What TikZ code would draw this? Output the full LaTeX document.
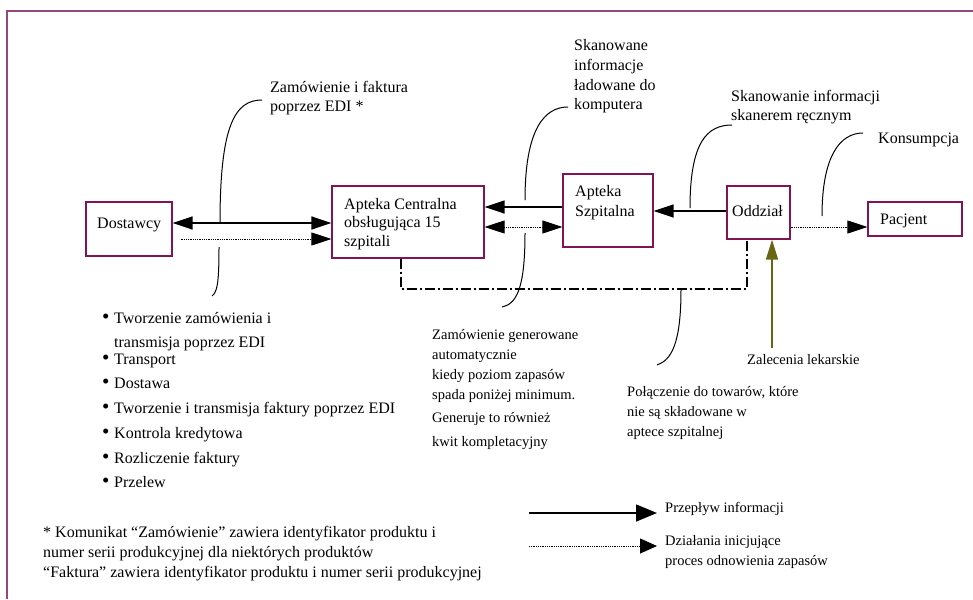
\documentclass[tikz,border=0pt]{standalone}
\usepackage{fontspec}
\setmainfont{Liberation Serif}
\usetikzlibrary{arrows.meta,calc}
\definecolor{boxc}{RGB}{128,20,84}
\definecolor{framec}{RGB}{150,70,125}
\definecolor{olivec}{RGB}{102,102,20}
\newcommand\bulmark{\makebox[12pt][l]{\raisebox{-0.5pt}{\fontsize{21}{20}\selectfont\textbullet}}}
\begin{document}
\begin{tikzpicture}[x=1pt,y=-1pt,
 boxst/.style={draw=boxc,line width=1.2pt,inner sep=0},
 txt/.style={inner sep=0,anchor=base west,align=left,font=\fontsize{16}{20}\selectfont},
 stxt/.style={txt,font=\fontsize{14.5}{20}\selectfont},
 tip/.style={-{Triangle[length=20pt,width=13pt]}},
 dtip/.style={{Triangle[length=20pt,width=13pt]}-{Triangle[length=20pt,width=13pt]}},
 solidln/.style={line width=1.5pt},
 dotln/.style={line width=0.8pt,dash pattern=on 1pt off 0.8pt},
 callout/.style={line width=1pt},
 dashdot/.style={line width=1.2pt,dash pattern=on 10pt off 3pt on 2pt off 3pt},
]
\useasboundingbox (0,0) rectangle (973,599);
\draw[framec,line width=1.2pt] (973,11) -- (7,11) -- (7,599);

% boxes (multi-line text nodes are placed by the baseline of their last line)
\node[boxst,minimum width=86pt,minimum height=54pt] (dost) at (129,229) {};
\node[txt] (dostT) at (97,228) {Dostawcy};
\node[boxst,minimum width=152pt,minimum height=72pt] (apc) at (408,222) {};
\node[txt,font=\fontsize{16}{18.5}\selectfont] (apcT) at (344,246) {Apteka Centralna\\obsługująca 15\\szpitali};
\node[boxst,minimum width=90pt,minimum height=73pt] (aps) at (608,210.5) {};
\node[txt] (apsT) at (575,216) {Apteka\\Szpitalna};
\node[boxst,minimum width=63pt,minimum height=53pt] (odd) at (758.5,212.5) {};
\node[txt] (oddT) at (732,216) {Oddział};
\node[boxst,minimum width=94pt,minimum height=34pt] (pac) at (915,219) {};
\node[txt] (pacT) at (880,224) {Pacjent};

% flows
\draw[solidln,dtip] (dost.east |- 0,223) -- (apc.west |- 0,223);
\draw[dotln,tip] ($(dost.east |- 0,239)+(8,0)$) -- (apc.west |- 0,239);
\draw[solidln,tip] (aps.west |- 0,207) -- (apc.east |- 0,207);
\draw[dotln,dtip] (apc.east |- 0,227) -- (aps.west |- 0,227);
\draw[solidln,tip] (odd.west |- 0,211) -- (aps.east |- 0,211);
\draw[dotln,tip] (odd.east |- 0,227) -- (pac.west |- 0,227);
\coordinate (zal) at (772,348);
\draw[olivec,solidln,-{Triangle[length=20pt,width=12pt]}] (zal) -- (odd.south -| zal);
\coordinate (dd1) at (401,289);
\coordinate (dd2) at (747,289);
\draw[dashdot] (apc.south -| dd1) -- (dd1) -- (dd2) -- (odd.south -| dd2);

% texts
\node[txt] (t1) at (270,112) {Zamówienie i faktura\\poprzez EDI *};
\node[txt,font=\fontsize{16}{19.7}\selectfont] (t2) at (574,110) {Skanowane\\informacje\\ładowane do\\komputera};
\node[txt,font=\fontsize{16}{19}\selectfont] (t3) at (731,121) {Skanowanie informacji\\skanerem ręcznym};
\node[txt] (t4) at (878,143) {Konsumpcja};
\node[stxt] (t5) at (432,446) {Zamówienie generowane\\automatycznie\\kiedy poziom zapasów\\spada poniżej minimum.\\[3pt]Generuje to również\\[4pt]kwit kompletacyjny};
\node[stxt] (t6) at (627,436) {Połączenie do towarów, które\\nie są składowane w\\aptece szpitalnej};
\node[stxt] (t7) at (747,364) {Zalecenia lekarskie};
\node[txt] (bul) at (102,487) {\bulmark Tworzenie zamówienia i\\[4pt]\hspace*{12pt}transmisja poprzez EDI\\[-3pt]\bulmark Transport\\[4pt]\bulmark Dostawa\\[5pt]\bulmark Tworzenie i transmisja faktury poprzez EDI\\[5pt]\bulmark Kontrola kredytowa\\[5pt]\bulmark Rozliczenie faktury\\[4pt]\bulmark Przelew};
\node[txt] (foot) at (43,577) {* Komunikat “Zamówienie” zawiera identyfikator produktu i\\numer serii produkcyjnej dla niektórych produktów\\“Faktura” zawiera identyfikator produktu i numer serii produkcyjnej};

% callouts
\coordinate (c1a) at (220,223); \coordinate (c1b) at (262,100);
\draw[callout] (c1a) .. controls (220,125) and (235,100) .. (c1b);
\coordinate (c2a) at (219,247); \coordinate (c2b) at (212,296);
\draw[callout] (c2a) .. controls (219,285) and (217,292) .. (c2b);
\coordinate (c3a) at (525,200); \coordinate (c3b) at (568,107);
\draw[callout] (c3a) .. controls (525,128) and (545,107) .. (c3b);
\coordinate (c4a) at (525,233); \coordinate (c4b) at (502,307);
\draw[callout] (c4a) .. controls (525,290) and (516,304) .. (c4b);
\coordinate (c5a) at (690,208); \coordinate (c5b) at (732,125);
\draw[callout] (c5a) .. controls (690,142) and (707,125) .. (c5b);
\coordinate (c6a) at (822,216); \coordinate (c6b) at (863,133);
\draw[callout] (c6a) .. controls (822,156) and (840,133) .. (c6b);
\coordinate (c7a) at (681,289); \coordinate (c7b) at (657,365);
\draw[callout] (c7a) .. controls (681,345) and (671,360) .. (c7b);

% legend
\coordinate (lg1a) at (529,513); \coordinate (lg1b) at (657,513);
\coordinate (lg2a) at (529,546); \coordinate (lg2b) at (657,546);
\draw[solidln,-{Triangle[length=21pt,width=17pt]}] (lg1a) -- (lg1b);
\draw[dotln,-{Triangle[length=17pt,width=15pt]}] (lg2a) -- (lg2b);
\node[stxt] (legT1) at (665,512) {Przepływ informacji};
\node[stxt] (legT2) at (665,565) {Działania inicjujące\\proces odnowienia zapasów};
\end{tikzpicture}
\end{document}
